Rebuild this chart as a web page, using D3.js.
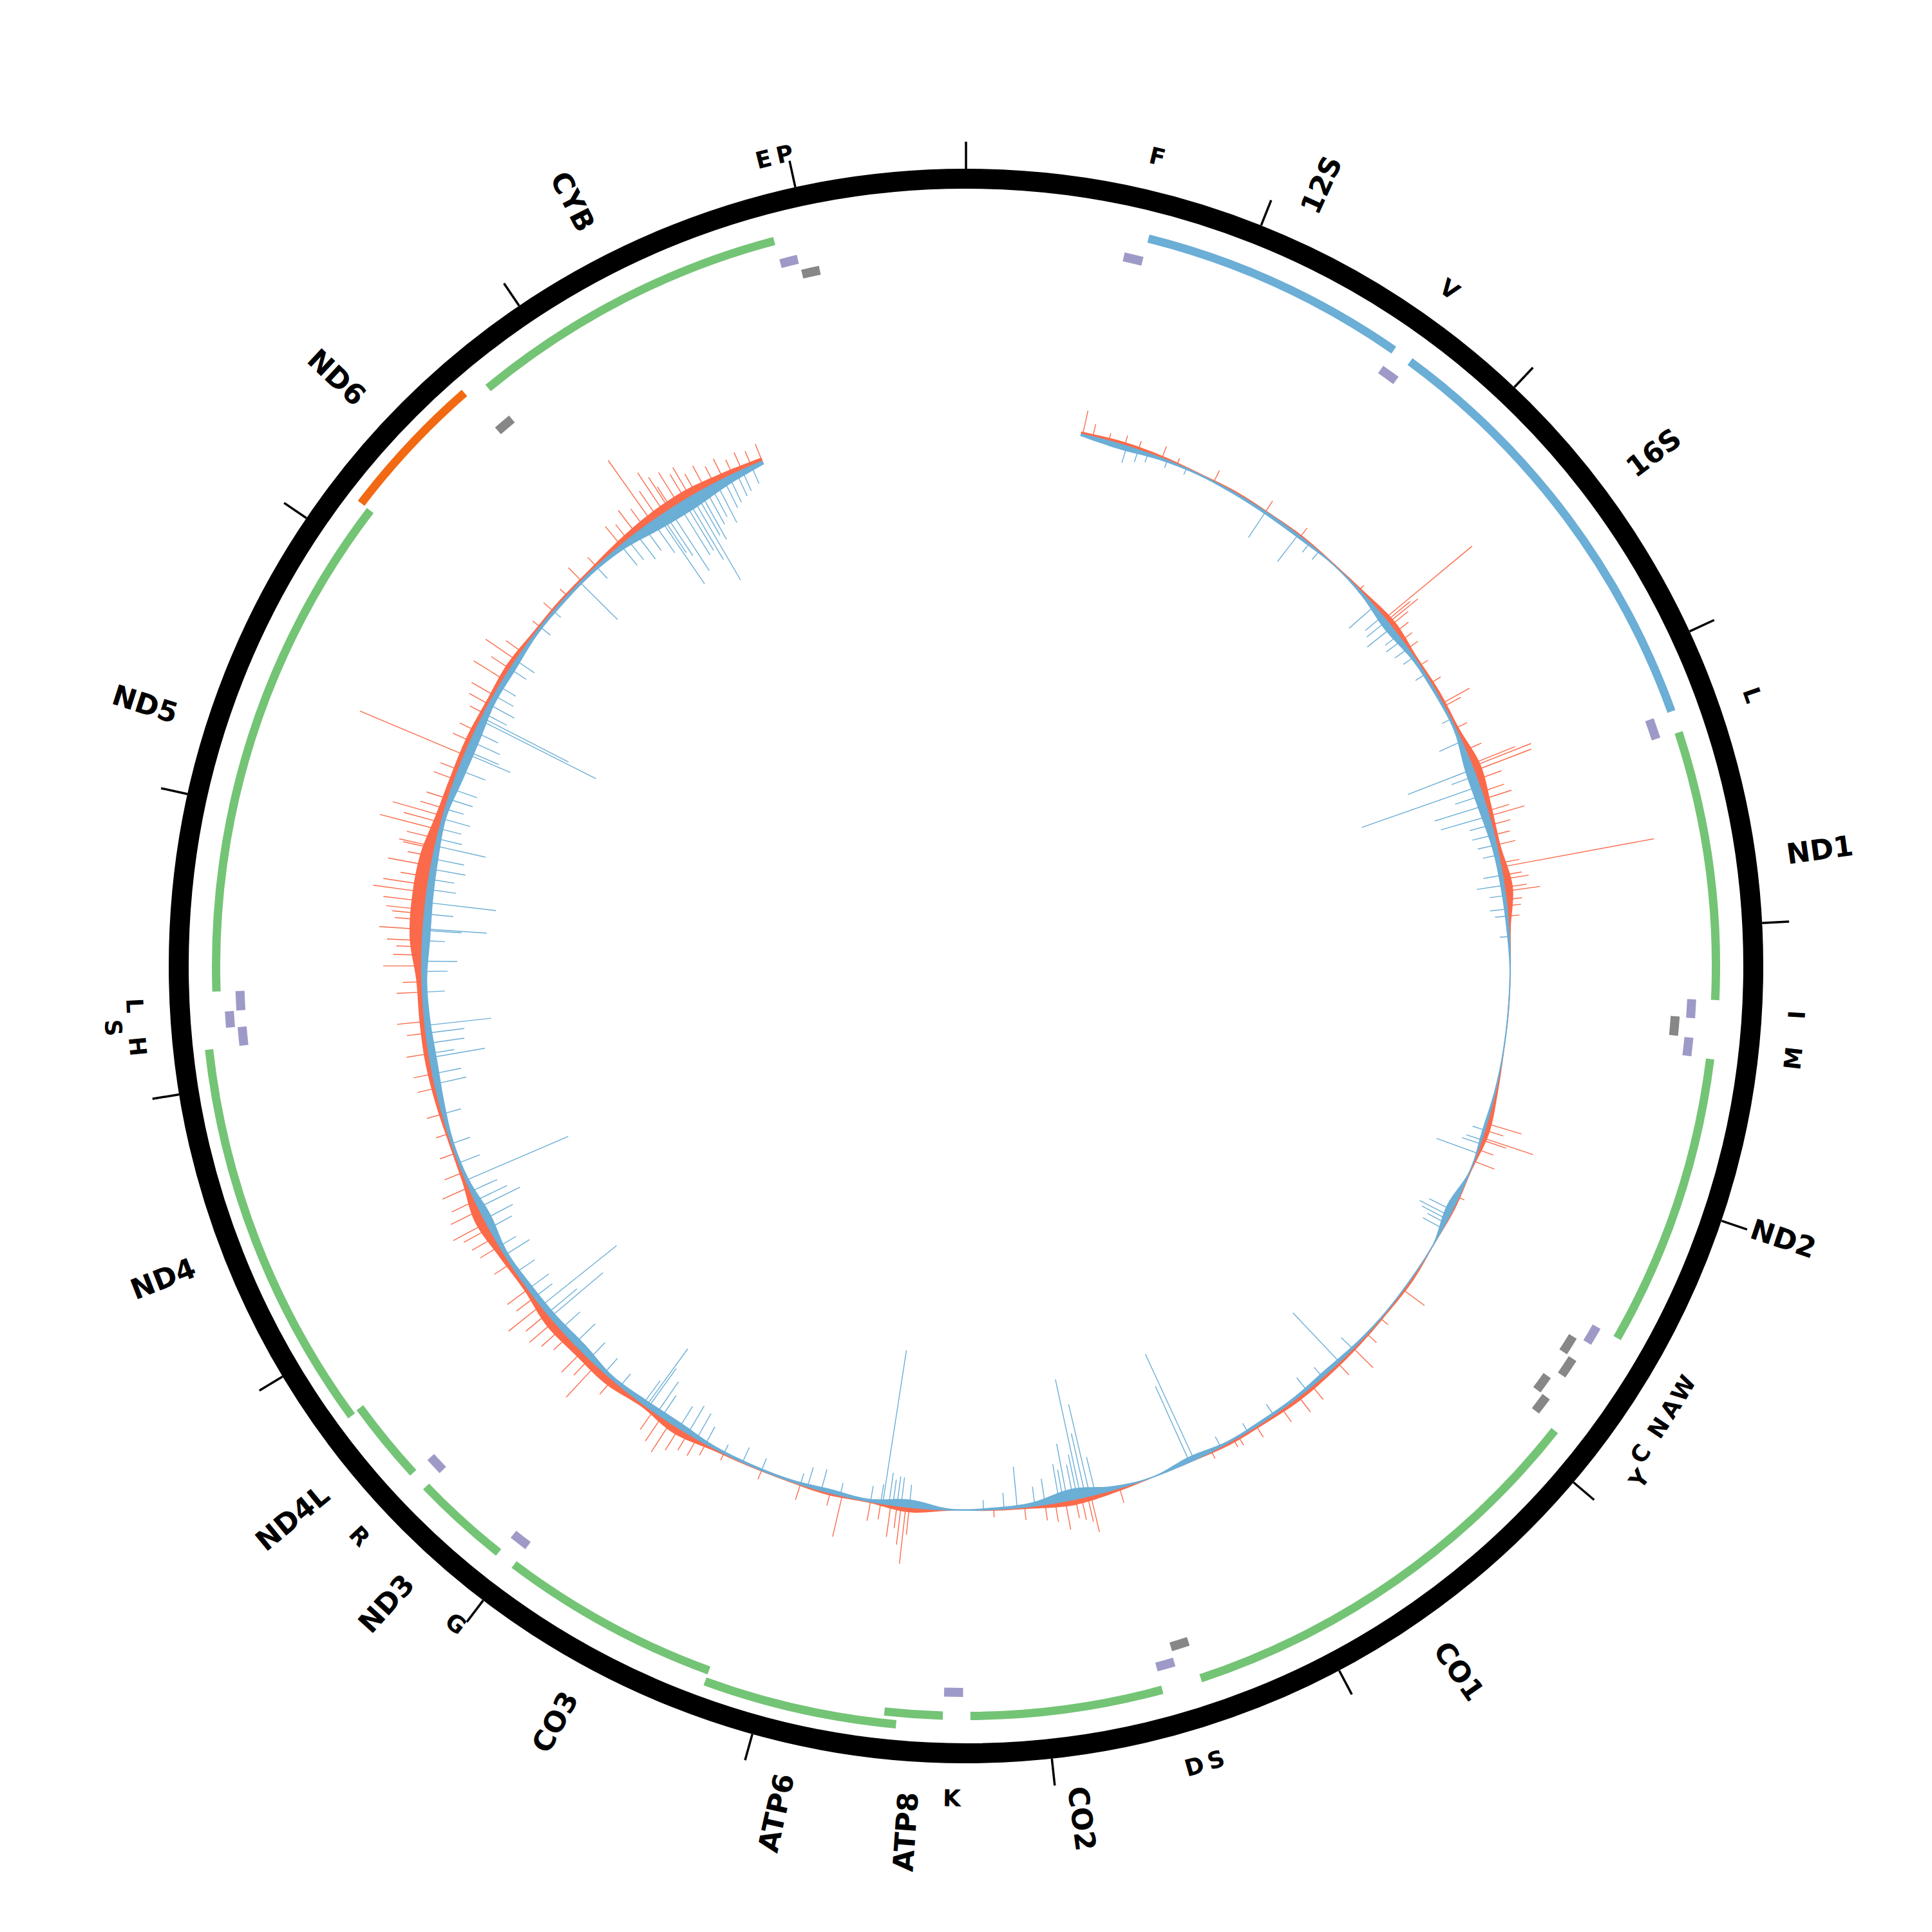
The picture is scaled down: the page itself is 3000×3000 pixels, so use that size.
<!DOCTYPE html>
<html>
<head>
<meta charset="utf-8">
<script src="https://cdn.jsdelivr.net/npm/d3@7"></script>
<style>
  body { margin: 0; background: #fff; }
  svg text { font-family: "DejaVu Sans", sans-serif; font-weight: bold; fill: #000; }
</style>
</head>
<body>
<svg id="chart"></svg>
<script>
// GLOBAL DECLARATIONS
const width = 3000;
const height = 3000;
const genomeLength = 16569;

// genes (rRNA + protein coding)
const geneNames = ["12S", "16S", "ND1", "ND2", "CO1", "CO2", "ATP8", "ATP6", "CO3", "ND3", "ND4L", "ND4", "ND5", "ND6", "CYB"];
const geneStart = [648, 1671, 3307, 4470, 5904, 7586, 8366, 8527, 9207, 10059, 10470, 10760, 12337, 14149, 14747];
const geneEnd   = [1601, 3229, 4262, 5511, 7445, 8269, 8572, 9207, 9990, 10404, 10766, 12137, 14148, 14673, 15887];
const geneKind  = ["rRNA", "rRNA", "H", "H", "H", "H", "H", "H", "H", "H", "H", "H", "H", "L", "H"];

// tRNAs
const trnaNames  = ["F", "V", "L", "I", "Q", "M", "W", "A", "N", "C", "Y", "S", "D", "K", "G", "R", "H", "S", "L", "E", "T", "P"];
const trnaStart  = [577, 1602, 3230, 4263, 4329, 4402, 5512, 5587, 5657, 5761, 5826, 7446, 7518, 8295, 9991, 10405, 12138, 12207, 12266, 14674, 15888, 15956];
const trnaEnd    = [647, 1670, 3304, 4331, 4400, 4469, 5579, 5655, 5729, 5826, 5891, 7514, 7585, 8364, 10058, 10469, 12206, 12265, 12336, 14742, 15953, 16023];
const trnaStrand = ["H", "H", "H", "H", "L", "H", "H", "L", "L", "L", "L", "L", "H", "H", "H", "H", "H", "H", "H", "L", "H", "L"];
// label text as printed next to each tRNA ("" = no label)
const trnaLabels = ["F", "V", "L", "I", "", "M", "W", "A", "N", "C", "Y", "S", "D", "K", "G", "R", "H", "S", "L", "", "E", "P"];
const trnaLabelLift = [0, 0, 0, 0, 0, 0, 0, 0, 0, 0, 22, 0, 0, 0, 0, 0, 0, 35, 0, 0, 0, 0];

// coverage track
const coverageStart = 560;
const coverageEnd = 15557;
const binStep = 200; // bins centred at 560, 760, ... 15560
const coreRed  = [4,5,4,2,3,2,3,2,4,9,4,5,5,13,8,6,13,3,1,1,1,4,8,2,3,1,4,3,4,5,6,4,4,1,1,5,9,4,2,1,8,2,4,2,2,4,11,5,12,11,13,6,9,15,6,4,6,8,8,9,20,22,20,11,8,8,6,8,4,4,4,8,12,13,9,6];
const coreBlue = [3,8,4,2,3,4,4,1,4,11,5,4,4,13,13,8,6,4,1,1,1,2,4,1,11,1,1,1,3,6,4,4,3,8,1,6,17,6,3,2,12,4,6,3,3,4,9,8,5,11,9,8,6,12,5,4,8,11,9,8,12,11,9,6,12,13,8,8,4,4,4,8,17,19,12,5];

// the tallest individual peaks
const redSpikePos = [570,780,971,1247,1537,1745,2130,2316,2330,2343,2360,2400,2499,2813,2830,3066,3140,3153,3176,3220,3283,3320,3380,3406,3640,3660,3700,3720,3760,3779,3820,4917,4950,4989,5110,5823,6196,6467,6928,7530,7674,7690,7720,7750,8560,8577,8620,8650,8890,9700,9800,9900,10256,10500,10600,10650,10700,10900,11050,11130,11250,11322,11829,12157,12427,12480,12520,12604,12680,12740,12784,12860,12914,12960,13009,13050,13094,13130,13163,13350,13477,13550,13607,13890,13950,14002,14500,14757,14945,14980,15020,15060,15100,15140,15167,15200,15300,15400,15557];
const redSpikeVal = [38,16,20,19,20,17,10,176,47,59,35,25,19,48,29,27,73,98,95,40,37,45,35,57,30,241,30,40,35,55,25,56,30,83,34,41,43,27,13,24,58,40,35,30,43,89,35,50,65,30,54,35,68,40,43,64,35,30,40,58,40,45,29,43,60,45,40,68,50,66,84,45,68,40,57,48,95,60,81,35,176,30,27,54,35,57,29,38,117,50,75,40,58,46,53,35,30,25,29];

const blueSpikePos = [792,1537,1731,1800,1860,2237,2300,2330,2371,2420,3020,3166,3200,3254,3300,3351,3406,3450,3700,3750,3800,3866,4950,5068,5370,5400,5440,5470,6291,7143,7168,7650,7678,7700,7723,7740,7760,7830,8036,8600,8620,8640,8660,8690,8995,9064,9850,9880,9930,9942,9960,10403,10577,10647,10750,10850,11000,11100,11213,11300,11359,11980,12050,12138,12607,12680,12736,12850,12950,13014,13100,13301,13400,13486,13550,13600,13662,13677,13850,13950,14490,14757,14950,14987,15020,15050,15100,15130,15175,15200,15250,15280,15311,15380,15450];
const blueSpikeVal = [27,48,52,17,16,52,35,40,49,25,38,109,40,194,45,83,78,35,30,43,25,27,20,67,40,52,32,35,105,181,129,60,146,101,188,70,55,60,64,45,46,40,50,241,34,31,40,60,75,110,45,45,107,150,40,35,30,40,72,45,173,87,58,103,99,45,110,40,50,80,35,42,45,76,50,40,201,151,30,30,82,40,60,126,80,113,93,90,151,75,63,55,70,45,35];

// shorter hairs filling the dense stretches
const redHairPos = [620,700,850,1050,2450,2600,2700,2950,3450,3500,3550,3850,3900,5000,5050,5300,6000,6100,6300,6550,6650,6800,6900,7050,7800,7850,7900,8000,8150,8600,8700,8750,8950,9100,9300,9500,9600,9650,9750,9850,10150,10300,10350,10450,10550,10750,11000,11100,11200,11400,11500,11600,11700,11900,12000,12100,12300,12350,12550,12650,12700,12820,13000,13200,13250,13400,13700,13750,13800,14050,14200,14300,14400,14600,14800,14850,14900,15050,15250,15350,15450,15500];
const redHairVal = [20,12,14,10,20,15,18,20,30,25,30,22,18,40,25,10,15,20,25,30,25,20,15,12,45,30,25,20,12,60,25,30,20,25,15,12,20,30,40,45,30,35,45,30,50,40,35,45,50,30,25,20,25,30,35,30,40,30,55,45,60,70,50,40,35,30,25,35,40,30,15,20,15,20,30,45,35,60,40,35,30,25];

const blueHairPos = [850,900,1000,1100,2450,2500,2550,2650,2900,3500,3550,3600,3900,4000,5000,5020,5420,6200,6400,6500,6700,6850,7000,7790,7810,7900,7950,8100,8200,8560,8700,8750,8900,9100,9300,9400,9500,9600,9650,9700,9750,10100,10200,10300,10500,10600,10700,10950,11150,11250,11450,11550,11700,11850,11900,12000,12100,12300,12400,12450,12550,12600,12800,12900,13050,13150,13200,13250,13500,13700,13750,13800,14000,14200,14300,14600,14800,14850,14900,15000,15150,15220,15350,15420,15500];
const blueHairVal = [20,15,12,10,30,25,20,18,15,35,30,25,20,15,25,30,45,25,20,25,20,15,18,90,50,40,30,25,15,35,30,25,20,18,20,25,15,30,45,50,40,25,30,35,40,60,35,45,50,55,35,30,30,50,45,40,60,35,40,55,35,60,45,55,40,45,30,40,55,40,45,35,35,20,15,25,40,50,45,70,110,85,50,40,30];

const tickPositions = [0,1000,2000,3000,4000,5000,6000,7000,8000,9000,10000,11000,12000,13000,14000,15000,16000];

// colours
const colors = { rRNA: "#6baed6", H: "#74c476", L: "#f16913", trnaH: "#9e9ac8", trnaL: "#878787", red: "#fb6a4a", blue: "#6baed6" };

// radii
const ringR = 1222.5, ringW = 31;
const tickIn = 1238, tickOut = 1280;
const geneR = 1164.5, arcW = 13, levelStep = 18;
const trnaHR = 1128, trnaLR = 1104;
const baseR = 845;
const geneLabelR = 1286, trnaLabelR = 1292;

let svg, g, angle, lenScale;

setup();
drawRing();
drawGenes();
drawTrnas();
drawCoverage();

function setup(){
  svg = d3.select("#chart").attr("width", width).attr("height", height);
  svg.append("rect").attr("width", width).attr("height", height).attr("fill", "#fff");
  g = svg.append("g").attr("transform", `translate(${width/2},${height/2})`);
  angle = d3.scaleLinear().domain([0, genomeLength]).range([0, 2 * Math.PI]);
  lenScale = d3.scaleLinear().domain([0, 250]).range([0, 250]);
}

function deg(bp){ return angle(bp) * 180 / Math.PI; }

// bump overlapping / touching features to a higher level
function assignLevels(items){
  const ends = [];
  items.sort((a, b) => a.start - b.start).forEach(d => {
    let lv = 0;
    while (ends[lv] !== undefined && d.start - ends[lv] < 5) lv++;
    d.level = lv;
    ends[lv] = d.end;
  });
}

function drawRing(){
  g.append("circle").attr("r", ringR).attr("fill", "none").attr("stroke", "#000").attr("stroke-width", ringW);
  g.selectAll(".tick").data(tickPositions).enter().append("line")
    .attr("class", "tick")
    .attr("x1", d => d3.pointRadial(angle(d), tickIn)[0])
    .attr("y1", d => d3.pointRadial(angle(d), tickIn)[1])
    .attr("x2", d => d3.pointRadial(angle(d), tickOut)[0])
    .attr("y2", d => d3.pointRadial(angle(d), tickOut)[1])
    .attr("stroke", "#000").attr("stroke-width", 3.5);
}

function drawGenes(){
  const genes = geneNames.map((n, i) => ({ name: n, start: geneStart[i], end: geneEnd[i], kind: geneKind[i] }));
  assignLevels(genes);
  const arc = d3.arc()
    .innerRadius(d => geneR + d.level * levelStep - arcW / 2)
    .outerRadius(d => geneR + d.level * levelStep + arcW / 2)
    .startAngle(d => angle(d.start))
    .endAngle(d => angle(d.end));
  g.selectAll(".gene").data(genes).enter().append("path")
    .attr("class", "gene").attr("d", arc).attr("fill", d => colors[d.kind]);

  g.selectAll(".gene-label").data(genes).enter().append("text")
    .attr("class", "gene-label")
    .attr("font-size", 44)
    .attr("dy", "0.36em")
    .attr("text-anchor", d => deg((d.start + d.end) / 2) < 180 ? "start" : "end")
    .attr("transform", d => {
      const a = deg((d.start + d.end) / 2);
      const [x, y] = d3.pointRadial(angle((d.start + d.end) / 2), geneLabelR);
      const rot = a < 180 ? a - 90 : a + 90;
      return `translate(${x},${y}) rotate(${rot})`;
    })
    .text(d => d.name);
}

function drawTrnas(){
  const trnas = trnaNames.map((n, i) => ({ name: n, start: trnaStart[i], end: trnaEnd[i], strand: trnaStrand[i], label: trnaLabels[i], lift: trnaLabelLift[i] }));
  assignLevels(trnas.filter(d => d.strand === "H"));
  assignLevels(trnas.filter(d => d.strand === "L"));
  const arc = d3.arc()
    .innerRadius(d => (d.strand === "H" ? trnaHR : trnaLR) + d.level * levelStep - 7)
    .outerRadius(d => (d.strand === "H" ? trnaHR : trnaLR) + d.level * levelStep + 7)
    .startAngle(d => angle(d.start))
    .endAngle(d => angle(d.end));
  g.selectAll(".trna").data(trnas).enter().append("path")
    .attr("class", "trna").attr("d", arc)
    .attr("fill", d => d.strand === "H" ? colors.trnaH : colors.trnaL);

  g.selectAll(".trna-label").data(trnas.filter(d => d.label !== "")).enter().append("text")
    .attr("class", "trna-label")
    .attr("font-size", 36)
    .attr("dy", "0.36em")
    .attr("text-anchor", "middle")
    .attr("transform", d => {
      const mid = (d.start + d.end) / 2;
      const a = deg(mid);
      const [x, y] = d3.pointRadial(angle(mid), trnaLabelR + d.lift);
      const rot = (a < 90 || a > 270) ? a : a - 180;
      return `translate(${x},${y}) rotate(${rot})`;
    })
    .text(d => d.label);
}

function spikes(pos, val, cls, color, dir){
  const data = pos.map((p, i) => ({ pos: p, v: val[i] }));
  g.selectAll("." + cls).data(data).enter().append("line")
    .attr("class", cls)
    .attr("x1", d => d3.pointRadial(angle(d.pos), baseR)[0])
    .attr("y1", d => d3.pointRadial(angle(d.pos), baseR)[1])
    .attr("x2", d => d3.pointRadial(angle(d.pos), baseR + dir * lenScale(d.v))[0])
    .attr("y2", d => d3.pointRadial(angle(d.pos), baseR + dir * lenScale(d.v))[1])
    .attr("stroke", color).attr("stroke-width", 1.4);
}

function drawCoverage(){
  const redBins = coreRed.map((v, i) => ({ pos: coverageStart + i * binStep, v: v }));
  const blueBins = coreBlue.map((v, i) => ({ pos: coverageStart + i * binStep, v: v }));

  const outward = d3.areaRadial()
    .angle(d => angle(d.pos))
    .innerRadius(baseR)
    .outerRadius(d => baseR + lenScale(d.v))
    .curve(d3.curveCatmullRom);
  const inward = d3.areaRadial()
    .angle(d => angle(d.pos))
    .innerRadius(baseR)
    .outerRadius(d => baseR - lenScale(d.v))
    .curve(d3.curveCatmullRom);

  g.append("path").datum(redBins).attr("d", outward).attr("fill", colors.red);
  g.append("path").datum(blueBins).attr("d", inward).attr("fill", colors.blue);

  spikes(redHairPos, redHairVal, "red-hair", colors.red, 1);
  spikes(redSpikePos, redSpikeVal, "red-spike", colors.red, 1);
  spikes(blueHairPos, blueHairVal, "blue-hair", colors.blue, -1);
  spikes(blueSpikePos, blueSpikeVal, "blue-spike", colors.blue, -1);

  // baseline
  const base = d3.arc().innerRadius(baseR - 1).outerRadius(baseR + 1)
    .startAngle(angle(coverageStart)).endAngle(angle(coverageEnd));
  g.append("path").attr("d", base()).attr("fill", colors.blue);
}
</script>
</body>
</html>
